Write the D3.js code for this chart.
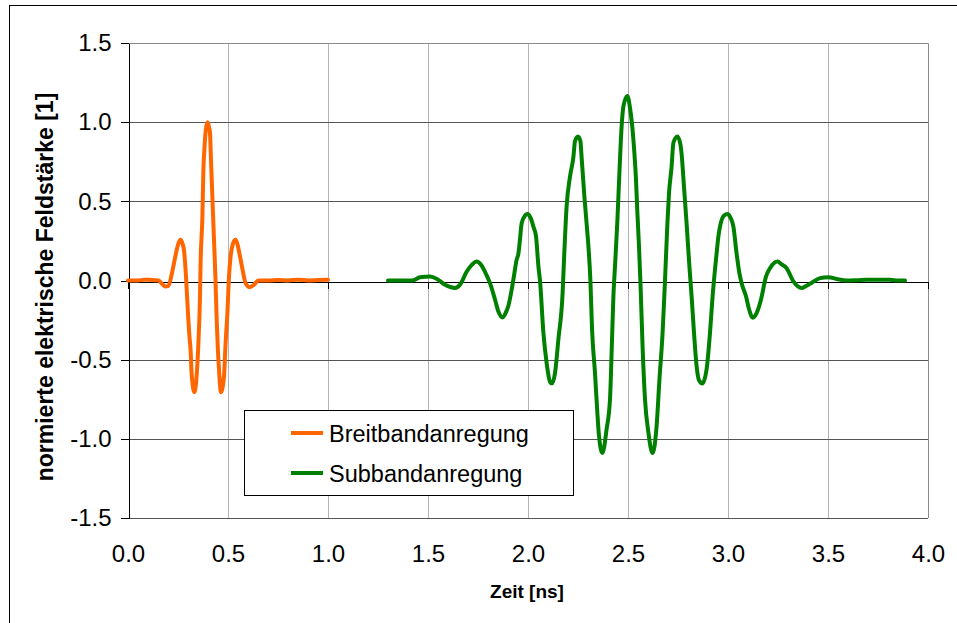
<!DOCTYPE html>
<html lang="de">
<head>
  <meta charset="UTF-8">
  <title>Breitband- und Subbandanregung</title>
  <script src="https://d3js.org/d3.v7.min.js"></script>
  <style>
    body { margin: 0; background: #fff; }
    svg { display: block; font-family: "Liberation Sans", Arial, sans-serif; }
  </style>
</head>
<body>
  <div id="chart"></div>
  <script>
    // Breitbandanregung (orange)
    const breitTime = [0.00, 0.05, 0.08, 0.11, 0.152, 0.17, 0.185, 0.202, 0.218, 0.23, 0.243, 0.255, 0.263, 0.272, 0.28,
      0.29, 0.297, 0.307, 0.313, 0.318, 0.332, 0.343, 0.352, 0.36, 0.363, 0.372, 0.377, 0.382, 0.39, 0.398, 0.405,
      0.41, 0.415, 0.423, 0.43, 0.437, 0.443, 0.448, 0.455, 0.465, 0.48, 0.488, 0.497, 0.505, 0.513, 0.527, 0.538,
      0.548, 0.557, 0.573, 0.588, 0.607, 0.63, 0.652, 0.70, 0.75, 0.80, 0.85, 0.90, 0.95, 1.00];
    const breitValue = [0.0, 0.0, 0.005, 0.004, 0.0, -0.02, -0.038, -0.034, 0.036, 0.11, 0.19, 0.245, 0.258, 0.235, 0.19,
      0.025, -0.14, -0.35, -0.44, -0.585, -0.705, -0.605, -0.395, -0.1, 0.11, 0.404, 0.7, 0.83, 0.96, 1.0, 0.97,
      0.93, 0.76, 0.488, 0.257, 0.025, -0.227, -0.395, -0.564, -0.705, -0.605, -0.395, -0.206, 0.025, 0.15, 0.24, 0.258,
      0.225, 0.172, 0.067, -0.017, -0.042, -0.027, 0.0, 0.0, 0.003, 0.0, 0.005, 0.0, 0.003, 0.005];

    // Subbandanregung (green)
    const subTime = [1.30, 1.35, 1.42, 1.46, 1.51, 1.545, 1.585, 1.635, 1.66, 1.693, 1.72, 1.743, 1.765, 1.785, 1.81,
      1.835, 1.852, 1.873, 1.89, 1.902, 1.918, 1.93, 1.943, 1.952, 1.96, 1.968, 1.985, 1.998, 2.015, 2.027, 2.04,
      2.052, 2.06, 2.077, 2.093, 2.11, 2.12, 2.135, 2.152, 2.173, 2.18, 2.193, 2.21, 2.227, 2.235, 2.25, 2.262,
      2.268, 2.282, 2.293, 2.303, 2.312, 2.32, 2.335, 2.347, 2.355, 2.372, 2.393, 2.41, 2.418, 2.427, 2.435, 2.447,
      2.457, 2.468, 2.477, 2.497, 2.51, 2.527, 2.54, 2.547, 2.555, 2.563, 2.573, 2.585, 2.602, 2.623, 2.643, 2.657,
      2.673, 2.685, 2.697, 2.705, 2.718, 2.727, 2.747, 2.762, 2.768, 2.78, 2.793, 2.807, 2.818, 2.83, 2.843, 2.855,
      2.872, 2.893, 2.91, 2.923, 2.935, 2.943, 2.952, 2.96, 2.98, 2.998, 3.015, 3.027, 3.043, 3.057, 3.068, 3.09,
      3.105, 3.124, 3.145, 3.165, 3.19, 3.21, 3.247, 3.27, 3.293, 3.327, 3.368, 3.39, 3.41, 3.46, 3.502, 3.543,
      3.593, 3.65, 3.693, 3.75, 3.81, 3.85, 3.885];
    const subValue = [0.0, 0.0, 0.0, 0.02, 0.025, 0.01, -0.027, -0.047, -0.027, 0.055, 0.1, 0.12, 0.1, 0.055, -0.017,
      -0.12, -0.196, -0.233, -0.2, -0.16, -0.06, 0.03, 0.13, 0.17, 0.26, 0.36, 0.41, 0.42, 0.39, 0.34, 0.28,
      0.09, 0.0, -0.33, -0.52, -0.64, -0.65, -0.585, -0.37, -0.08, 0.13, 0.467, 0.656, 0.78, 0.88, 0.91, 0.88,
      0.78, 0.53, 0.36, 0.2, 0.0, -0.3, -0.585, -0.84, -0.98, -1.09, -0.94, -0.75, -0.46, -0.1, 0.09, 0.38,
      0.68, 0.97, 1.1, 1.165, 1.09, 0.89, 0.635, 0.425, 0.215, -0.04, -0.42, -0.75, -0.96, -1.09, -0.92, -0.63,
      -0.33, 0.0, 0.36, 0.55, 0.72, 0.87, 0.91, 0.86, 0.8, 0.59, 0.36, 0.09, -0.1, -0.33, -0.54, -0.63,
      -0.65, -0.56, -0.33, -0.1, 0.07, 0.17, 0.28, 0.34, 0.41, 0.42, 0.39, 0.34, 0.17, 0.046, -0.017, -0.1,
      -0.18, -0.235, -0.2, -0.12, 0.025, 0.078, 0.12, 0.1, 0.078, -0.006, -0.047, -0.035, -0.021, 0.015, 0.021, 0.01,
      0.0, 0.002, 0.004, 0.004, 0.004, 0.0, 0.0];

    const seriesNames = ["Breitbandanregung", "Subbandanregung"];
    const seriesColors = ["#ff6600", "#008000"];
    const xTicks = [0, 0.5, 1, 1.5, 2, 2.5, 3, 3.5, 4];
    const yTicks = [-1.5, -1, -0.5, 0, 0.5, 1, 1.5];

    const svgWidth = 957, svgHeight = 623;
    const plot = { left: 128, top: 43, right: 928, bottom: 518 };

    const svg = d3.select("#chart").append("svg")
      .attr("width", svgWidth)
      .attr("height", svgHeight);

    // outer chart frame
    svg.append("rect")
      .attr("x", 9.5).attr("y", 5.5)
      .attr("width", 970).attr("height", 640)
      .attr("fill", "#fff").attr("stroke", "#000").attr("stroke-width", 1);

    const x = d3.scaleLinear().domain([0, 4]).range([plot.left, plot.right]);
    const y = d3.scaleLinear().domain([-1.5, 1.5]).range([plot.bottom, plot.top]);

    // vertical gridlines
    svg.append("g")
      .selectAll("line")
      .data(xTicks.slice(1, -1))
      .enter().append("line")
      .attr("x1", d => Math.round(x(d)) + 0.5).attr("x2", d => Math.round(x(d)) + 0.5)
      .attr("y1", plot.top).attr("y2", plot.bottom)
      .attr("stroke", "#b4b4b4").attr("stroke-width", 1);

    // horizontal gridlines
    svg.append("g")
      .selectAll("line")
      .data(yTicks.filter(d => d !== 0 && d !== 1.5))
      .enter().append("line")
      .attr("x1", plot.left).attr("x2", plot.right)
      .attr("y1", d => Math.round(y(d)) + 0.5).attr("y2", d => Math.round(y(d)) + 0.5)
      .attr("stroke", "#555").attr("stroke-width", 1);

    // plot area border (top, right)
    svg.append("path")
      .attr("d", `M${plot.left},${plot.top + 0.5}H${plot.right + 0.5}V${plot.bottom}`)
      .attr("fill", "none").attr("stroke", "#8a8a8a").attr("stroke-width", 1);

    // y axis
    svg.append("g")
      .attr("transform", `translate(${plot.left + 0.5},0)`)
      .call(d3.axisLeft(y).tickValues(yTicks).tickSize(8).tickSizeOuter(0).tickPadding(9)
        .tickFormat(d => d.toFixed(1)))
      .call(g => g.selectAll("text").attr("font-size", "24px").attr("font-family", null).attr("fill", "#000"))
      .call(g => g.selectAll("line, path").attr("stroke", "#000").attr("shape-rendering", "crispEdges"));

    // x axis line at zero, ticks only
    svg.append("g")
      .attr("transform", `translate(0,${Math.round(y(0)) + 0.5})`)
      .call(d3.axisBottom(x).tickValues(xTicks).tickSize(7).tickSizeOuter(0).tickFormat(""))
      .call(g => g.selectAll("line, path").attr("stroke", "#000").attr("shape-rendering", "crispEdges"));

    // x tick labels at the bottom
    svg.append("g")
      .attr("transform", `translate(0,${plot.bottom})`)
      .call(d3.axisBottom(x).tickValues(xTicks).tickSize(0).tickPadding(27).tickFormat(d => d.toFixed(1)))
      .call(g => g.select(".domain").remove())
      .call(g => g.selectAll("text").attr("font-size", "24px").attr("font-family", null).attr("fill", "#000"));

    // Series
    const line = d3.line()
      .x(d => x(d[0]))
      .y(d => y(d[1]))
      .curve(d3.curveMonotoneX);

    const series = [
      d3.zip(breitTime, breitValue),
      d3.zip(subTime, subValue)
    ];

    svg.append("g")
      .selectAll("path")
      .data(series)
      .enter().append("path")
      .attr("d", line)
      .attr("fill", "none")
      .attr("stroke", (d, i) => seriesColors[i])
      .attr("stroke-width", 4)
      .attr("stroke-linejoin", "round")
      .attr("stroke-linecap", "round");

    // Axis titles
    svg.append("text")
      .attr("x", 527)
      .attr("y", 598)
      .attr("text-anchor", "middle")
      .attr("font-size", "19px")
      .attr("font-weight", "bold")
      .text("Zeit [ns]");

    svg.append("text")
      .attr("transform", "translate(53,287) rotate(-90)")
      .attr("text-anchor", "middle")
      .attr("font-size", "23px")
      .attr("font-weight", "bold")
      .text("normierte elektrische Feldstärke [1]");

    // Legend
    const legend = svg.append("g");
    legend.append("rect")
      .attr("x", 244.5).attr("y", 410.5)
      .attr("width", 329).attr("height", 85)
      .attr("fill", "#fff").attr("stroke", "#000").attr("stroke-width", 1);

    const legendY = [433, 473];
    legend.selectAll("line")
      .data(seriesNames)
      .enter().append("line")
      .attr("x1", 291).attr("x2", 323)
      .attr("y1", (d, i) => legendY[i]).attr("y2", (d, i) => legendY[i])
      .attr("stroke", (d, i) => seriesColors[i])
      .attr("stroke-width", 4);

    legend.selectAll("text")
      .data(seriesNames)
      .enter().append("text")
      .attr("x", 329)
      .attr("y", (d, i) => legendY[i] + 9)
      .attr("font-size", "23.5px")
      .text(d => d);
  </script>
</body>
</html>
